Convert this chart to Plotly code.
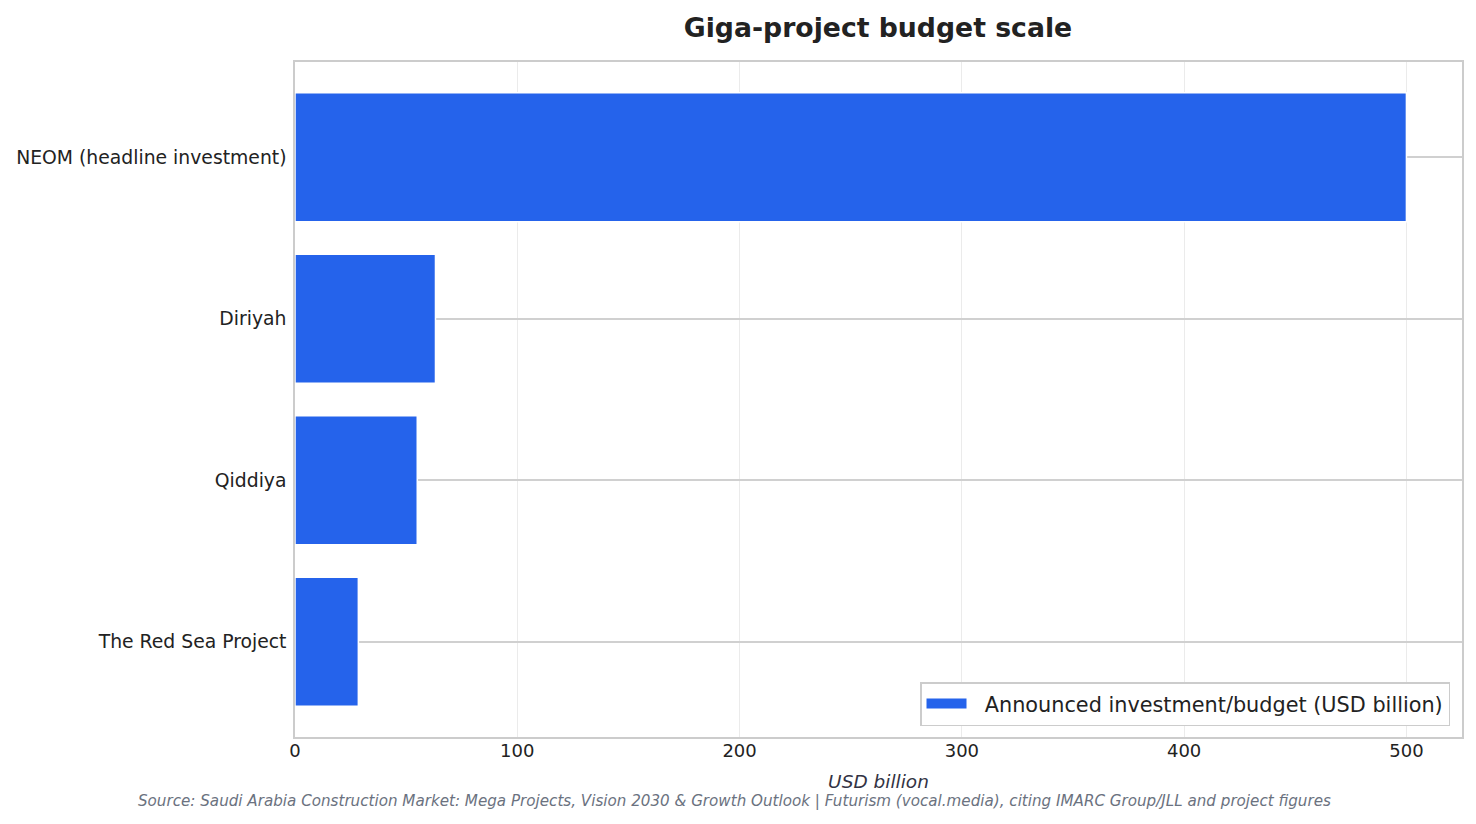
import plotly.graph_objects as go

projects = ["NEOM (headline investment)", "Diriyah", "Qiddiya", "The Red Sea Project"]
budget_usd_bn = [500, 63.2, 55, 28.5]
x_ticks = [0, 100, 200, 300, 400, 500]

title_text = "Giga-project budget scale"
series_name = "Announced investment/budget (USD billion)"
x_title = "USD billion"
source_text = ("Source: Saudi Arabia Construction Market: Mega Projects, Vision 2030 & Growth Outlook | "
               "Futurism (vocal.media), citing IMARC Group/JLL and project figures")

BLUE = "#2563eb"
FONT = "DejaVu Sans"

fig = go.Figure()
fig.add_trace(go.Bar(
    x=budget_usd_bn, y=projects, orientation="h", width=0.8,
    marker=dict(color=BLUE, line=dict(color="white", width=1.5)),
    name=series_name, showlegend=False,
))
# legend entry (wide rectangular swatch)
fig.add_trace(go.Scatter(
    x=[None], y=[None], mode="lines", line=dict(color=BLUE, width=14),
    name="\u00a0\u00a0" + series_name, showlegend=True, hoverinfo="skip",
))

n = len(projects)
fig.update_layout(
    width=1476, height=824,
    margin=dict(l=287, r=22, t=54, b=95, autoexpand=False),
    paper_bgcolor="white", plot_bgcolor="white",
    font=dict(family=FONT, color="#222222"),
    title=dict(text="<b>" + title_text + "</b>", x=(683 + 1071) / 2 / 1476 - 7 / 1476, xanchor="center",
               xref="container",
               y=1 - 20 / 824, yanchor="middle", font=dict(size=26.7, color="#222222", family=FONT)),
    showlegend=True,
    legend=dict(x=(1450 - 294) / 1168, y=(737 - 726) / 676, xanchor="right", yanchor="bottom",
                bgcolor="white", bordercolor="#cccccc", borderwidth=1.5,
                font=dict(size=20.8, color="#222222", family=FONT),
                itemwidth=40, tracegroupgap=0),
    xaxis=dict(range=[0, 525], tickvals=x_ticks, ticktext=[str(v) for v in x_ticks],
               automargin=False,
               showgrid=True, gridcolor="#ebebeb", gridwidth=1,
               zeroline=False, showline=True, linecolor="#cccccc", linewidth=1.5, mirror=True,
               ticks="", ticklabelstandoff=-3,
               tickfont=dict(size=18, color="#222222", family=FONT),
               title=dict(text="<i>" + x_title + "</i>", standoff=15,
                          font=dict(size=18.5, color="#333344", family=FONT))),
    yaxis=dict(type="category", categoryorder="array", categoryarray=projects,
               range=[n - 1 + 0.59, -0.59], automargin=False,
               showgrid=True, gridcolor="#d0d0d0", gridwidth=1.7,
               zeroline=False, showline=True, linecolor="#cccccc", linewidth=1.5, mirror=True,
               ticks="", ticklabelstandoff=3,
               tickfont=dict(size=18.8, color="#222222", family=FONT)),
)

fig.add_annotation(
    text="<i>" + source_text + "</i>", xref="paper", yref="paper",
    x=(734 - 294) / 1168, y=-(800 - 736) / 675, xanchor="center", yanchor="middle",
    showarrow=False, font=dict(size=15.15, color="#6b7280", family=FONT),
)

fig.write_html("out.html")
